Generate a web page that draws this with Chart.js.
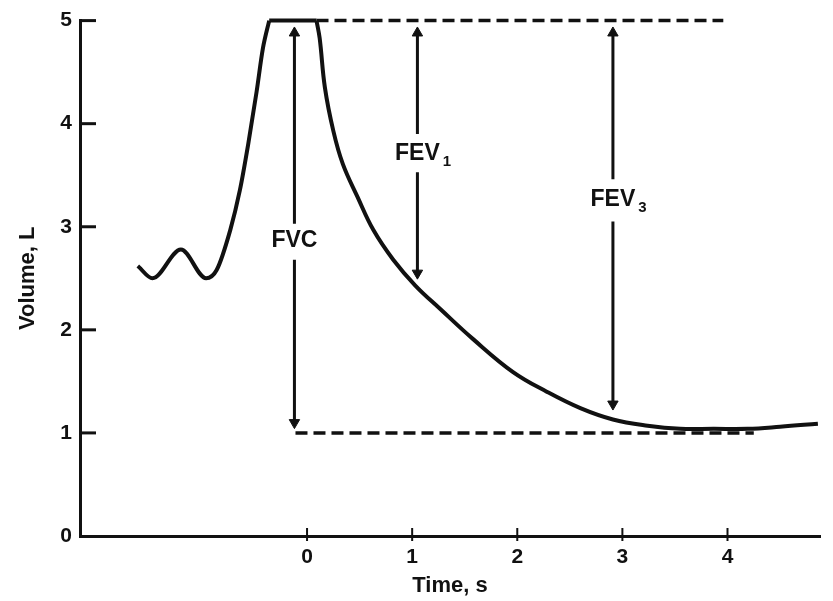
<!DOCTYPE html>
<html>
<head>
<meta charset="utf-8">
<script src="https://cdn.jsdelivr.net/npm/chart.js@4.4.1/dist/chart.umd.min.js"></script>
<style>
  html, body { margin: 0; padding: 0; background: #fff; }
  #wrap { width: 833px; height: 601px; }
</style>
</head>
<body>
<div id="wrap"><canvas id="spiro" width="833" height="601"></canvas></div>
<script>
// Spirogram: volume vs time, with FVC / FEV1 / FEV3 markers

// tidal breathing + maximal inspiration (s, L)
const inspTime = [-1.61, -1.47, -1.20, -0.96, -0.86, -0.73, -0.64, -0.56, -0.48, -0.42, -0.36];
const inspVolume = [2.62, 2.50, 2.78, 2.50, 2.58, 2.97, 3.35, 3.80, 4.31, 4.73, 5.00];

// breath hold at full inspiration
const holdTime = [-0.36, 0.09];
const holdVolume = [5.00, 5.00];

// forced expiration
const expTime = [0.09, 0.12, 0.17, 0.25, 0.34, 0.48, 0.63, 0.82, 1.03, 1.27, 1.58, 1.96, 2.28, 2.60, 2.91, 3.24, 3.55, 3.87, 4.19, 4.50, 4.86];
const expVolume = [5.00, 4.83, 4.35, 3.93, 3.61, 3.29, 2.97, 2.68, 2.43, 2.20, 1.91, 1.59, 1.40, 1.24, 1.13, 1.07, 1.04, 1.04, 1.04, 1.06, 1.09];

// dashed reference levels
const topLevelTime = [0.09, 3.96];
const topLevel = 5;
const bottomLevelTime = [-0.11, 4.25];
const bottomLevel = 1;

// arrows: time, top tip, gap top, gap bottom, bottom tip (L)
const arrowNames = ['FVC', 'FEV1', 'FEV3'];
const arrowTime = [-0.12, 1.05, 2.91];
const arrowTop = [4.88, 4.88, 4.88];
const arrowGapTop = [3.03, 3.90, 3.46];
const arrowGapBottom = [2.68, 3.53, 3.05];
const arrowBottom = [1.10, 2.55, 1.28];

// annotation text
const labelText = ['FVC', 'FEV', 'FEV'];
const labelSub = ['', '1', '3'];
const labelTime = [-0.12, 1.05, 2.91];
const labelVolume = [2.87, 3.71, 3.26];

// axis ticks
const xTicks = [0, 1, 2, 3, 4];
const yTicks = [0, 1, 2, 3, 4, 5];

const INK = '#111';
const FONT = '"Liberation Sans", Arial, sans-serif';

function toPoints(xs, ys) {
  return xs.map((x, i) => ({ x: x, y: ys[i] }));
}

function curveSet(xs, ys) {
  return {
    data: toPoints(xs, ys),
    borderColor: INK,
    borderWidth: 4,
    pointRadius: 0,
    cubicInterpolationMode: 'monotone',
    clip: false
  };
}

function levelSet(xs, level) {
  return {
    data: xs.map(x => ({ x: x, y: level })),
    borderColor: INK,
    borderWidth: 3.5,
    borderDash: [12, 6],
    pointRadius: 0,
    clip: false
  };
}

function arrowSets(i) {
  const t = arrowTime[i];
  const head = {
    pointStyle: 'triangle',
    pointBackgroundColor: INK,
    pointBorderColor: INK,
    pointBorderWidth: 1
  };
  return [
    Object.assign({
      data: [{ x: t, y: arrowTop[i] }, { x: t, y: arrowGapTop[i] }],
      borderColor: INK,
      borderWidth: 3,
      pointRadius: [6, 0],
      pointRotation: [0, 0],
      clip: false
    }, head),
    Object.assign({
      data: [{ x: t, y: arrowGapBottom[i] }, { x: t, y: arrowBottom[i] }],
      borderColor: INK,
      borderWidth: 3,
      pointRadius: [0, 6],
      pointRotation: [0, 180],
      clip: false
    }, head)
  ];
}

// short tick marks drawn on the axes
const tickMarks = {
  id: 'tickMarks',
  afterDatasetsDraw(chart) {
    const { ctx, scales: { x, y }, chartArea } = chart;
    ctx.save();
    ctx.strokeStyle = INK;
    ctx.lineWidth = 3;
    yTicks.filter(v => v > 0).forEach(v => {
      const py = y.getPixelForValue(v);
      ctx.beginPath();
      ctx.moveTo(chartArea.left, py);
      ctx.lineTo(chartArea.left + 16, py);
      ctx.stroke();
    });
    ctx.lineWidth = 2;
    xTicks.forEach(v => {
      const px = x.getPixelForValue(v);
      ctx.beginPath();
      ctx.moveTo(px, chartArea.bottom - 8);
      ctx.lineTo(px, chartArea.bottom + 5);
      ctx.stroke();
    });
    ctx.restore();
  }
};

// FVC / FEV labels with subscripts
const markerLabels = {
  id: 'markerLabels',
  afterDatasetsDraw(chart) {
    const { ctx, scales: { x, y } } = chart;
    ctx.save();
    ctx.fillStyle = INK;
    labelText.forEach((txt, i) => {
      const px = x.getPixelForValue(labelTime[i]);
      const py = y.getPixelForValue(labelVolume[i]);
      ctx.font = 'bold 23px ' + FONT;
      ctx.textAlign = 'center';
      ctx.textBaseline = 'middle';
      ctx.fillText(txt, px, py);
      if (labelSub[i]) {
        const w = ctx.measureText(txt).width;
        ctx.font = 'bold 15px ' + FONT;
        ctx.textAlign = 'left';
        ctx.fillText(labelSub[i], px + w / 2 + 3, py + 8);
      }
    });
    ctx.restore();
  }
};

const datasets = [
  curveSet(inspTime, inspVolume),
  Object.assign(curveSet(holdTime, holdVolume), { cubicInterpolationMode: 'default', tension: 0 }),
  // smoother bezier for the long expiration curve
  Object.assign(curveSet(expTime, expVolume), { cubicInterpolationMode: 'default', tension: 0.4 }),
  levelSet(topLevelTime, topLevel),
  levelSet(bottomLevelTime, bottomLevel)
];
arrowNames.forEach((name, i) => {
  arrowSets(i).forEach(ds => datasets.push(ds));
});

const spiroChart = new Chart(document.getElementById('spiro').getContext('2d'), {
  type: 'line',
  data: { datasets: datasets },
  options: {
    responsive: false,
    animation: false,
    events: [],
    layout: { padding: { top: 15, right: 13, left: 0, bottom: 0 } },
    plugins: {
      legend: { display: false },
      tooltip: { enabled: false }
    },
    scales: {
      x: {
        type: 'linear',
        min: -2.16,
        max: 4.88,
        afterBuildTicks: scale => { scale.ticks = xTicks.map(v => ({ value: v })); },
        afterFit: scale => { scale.height = 65; },
        grid: { display: false, drawTicks: false },
        border: { display: true, color: INK, width: 3 },
        ticks: {
          color: INK,
          padding: 9,
          maxRotation: 0,
          font: { family: FONT, size: 21, weight: 'bold' }
        },
        title: {
          display: true,
          text: 'Time, s',
          color: INK,
          padding: { top: 0, bottom: 2 },
          font: { family: FONT, size: 22, weight: 'bold' }
        }
      },
      y: {
        type: 'linear',
        min: 0,
        max: 5,
        afterBuildTicks: scale => { scale.ticks = yTicks.map(v => ({ value: v })); },
        afterFit: scale => { scale.width = 80; },
        grid: { display: false, drawTicks: false },
        border: { display: true, color: INK, width: 3 },
        ticks: {
          color: INK,
          padding: 8,
          font: { family: FONT, size: 21, weight: 'bold' }
        },
        title: {
          display: true,
          text: 'Volume, L',
          color: INK,
          padding: { top: 15, bottom: 0 },
          font: { family: FONT, size: 22, weight: 'bold' }
        }
      }
    }
  },
  plugins: [tickMarks, markerLabels]
});
</script>
</body>
</html>
